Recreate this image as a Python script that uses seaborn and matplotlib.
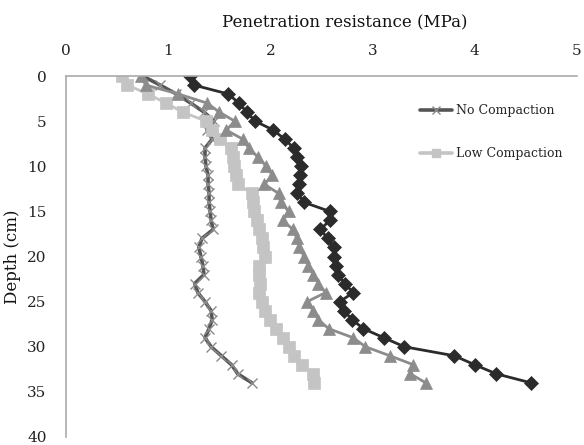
import numpy as np
import pandas as pd
import matplotlib
matplotlib.use("Agg")
import matplotlib.pyplot as plt
import seaborn as sns
from matplotlib.lines import Line2D

depth = list(range(0, 35))

# dark diamonds
diamond_vals = [1.21, 1.25, 1.59, 1.69, 1.77, 1.85, 2.03, 2.14, 2.23, 2.26,
                2.30, 2.29, 2.28, 2.26, 2.33, 2.58, 2.58, 2.49, 2.56, 2.62,
                2.62, 2.64, 2.66, 2.73, 2.81, 2.68, 2.72, 2.80, 2.91, 3.11,
                3.31, 3.80, 4.00, 4.21, 4.55]
# mid-gray triangles
triangle_vals = [0.73, 0.78, 1.10, 1.38, 1.50, 1.65, 1.57, 1.73, 1.79, 1.88,
                 1.96, 2.02, 1.94, 2.08, 2.10, 2.18, 2.12, 2.22, 2.26, 2.28,
                 2.33, 2.37, 2.42, 2.47, 2.54, 2.36, 2.42, 2.47, 2.57, 2.81,
                 2.93, 3.17, 3.40, 3.37, 3.52]
# light gray squares (Low Compaction)
low_vals = [0.55, 0.60, 0.80, 0.98, 1.14, 1.37, 1.43, 1.51, 1.61, 1.63,
            1.64, 1.66, 1.68, 1.82, 1.83, 1.84, 1.87, 1.89, 1.92, 1.93,
            1.95, 1.89, 1.89, 1.90, 1.89, 1.92, 1.95, 2.00, 2.05, 2.12,
            2.18, 2.23, 2.31, 2.42, 2.43]
# dark gray line with x markers (No Compaction)
no_vals = [0.75, 0.92, 1.08, 1.22, 1.35, 1.45, 1.38, 1.43, 1.36, 1.36,
           1.37, 1.39, 1.39, 1.40, 1.40, 1.41, 1.42, 1.44, 1.33, 1.30,
           1.32, 1.34, 1.35, 1.26, 1.29, 1.36, 1.42, 1.43, 1.40, 1.36,
           1.42, 1.52, 1.62, 1.68, 1.82]

legend_labels = ["No Compaction", "Low Compaction"]
x_ticks = [0, 1, 2, 3, 4, 5]
y_ticks = [0, 5, 10, 15, 20, 25, 30, 35, 40]

sns.set_style("white")
plt.rcParams['font.family'] = ['DejaVu Serif']

fig = plt.figure(figsize=(5.84, 4.45), dpi=100)
ax = fig.add_axes([66/584, 1-437/445, 511/584, 361/445])

df = pd.DataFrame({"depth": depth, "diamond": diamond_vals, "tri": triangle_vals,
                   "low": low_vals, "no": no_vals})

sns.lineplot(data=df, x="no", y="depth", orient="y", sort=False, ax=ax,
             color="#555555", lw=2.6, marker="x", markersize=7,
             markeredgecolor="#8a8a8a", markeredgewidth=1.0, legend=False)
sns.lineplot(data=df, x="low", y="depth", orient="y", sort=False, ax=ax,
             color="#c4c4c4", lw=2.0, marker="s", markersize=8.5,
             markeredgecolor="#c4c4c4", markeredgewidth=0.5, legend=False)
sns.lineplot(data=df, x="tri", y="depth", orient="y", sort=False, ax=ax,
             color="#8c8c8c", lw=2.0, marker="^", markersize=9,
             markeredgecolor="#8c8c8c", markeredgewidth=0.5, legend=False)
sns.lineplot(data=df, x="diamond", y="depth", orient="y", sort=False, ax=ax,
             color="#2b2b2b", lw=2.0, marker="D", markersize=7.2,
             markeredgecolor="#2b2b2b", markeredgewidth=0.5, legend=False)

ax.set_xlim(0, 5)
ax.set_ylim(40, 0)
ax.set_xticks(x_ticks)
ax.set_yticks(y_ticks)
ax.xaxis.tick_top()
ax.xaxis.set_label_position("top")
ax.tick_params(axis="both", length=0, labelsize=11, colors="#222222")
ax.tick_params(axis="x", pad=13)
ax.tick_params(axis="y", pad=14)
for s in ["right", "bottom"]:
    ax.spines[s].set_visible(False)
for s in ["top", "left"]:
    ax.spines[s].set_color("#aaaaaa")
    ax.spines[s].set_linewidth(1.2)

ax.set_xlabel("Penetration resistance (MPa)", fontsize=12, color="#111111")
ax.xaxis.set_label_coords(0.545, 1.135)
ax.set_ylabel("Depth (cm)", fontsize=12, color="#111111")
ax.yaxis.set_label_coords(-0.088, 0.5)

h1 = Line2D([], [], color="#555555", lw=2.6, marker="x", markersize=6,
            markeredgecolor="#8a8a8a")
h2 = Line2D([], [], color="#c4c4c4", lw=2.6, marker="s", markersize=6,
            markeredgecolor="#c4c4c4")
ax.legend([h1, h2], legend_labels, loc="center left",
          bbox_to_anchor=(0.67, 0.845), frameon=False, fontsize=9,
          handlelength=2.6, handletextpad=0.3, labelspacing=2.4)

fig.savefig("out.png", dpi=100)
